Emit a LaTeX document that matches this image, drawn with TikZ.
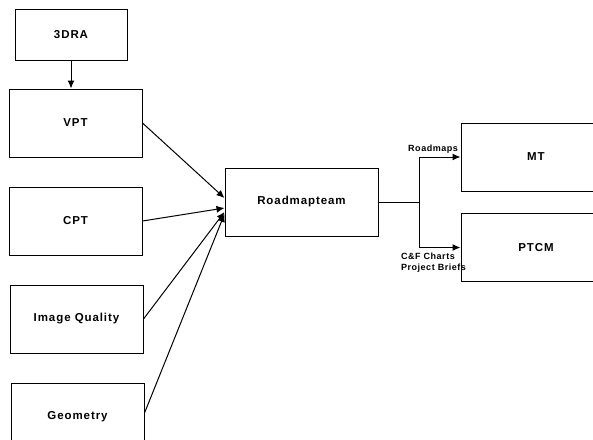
\documentclass[tikz,border=0pt]{standalone}
\usepackage{fontspec}
\setmainfont{Liberation Sans}
\newfontfamily\boxfont{Liberation Sans}[LetterSpace=8]
\newfontfamily\lblfont{Liberation Sans}[LetterSpace=6]
\usepackage{tikz}
\usetikzlibrary{arrows.meta,positioning,calc}

\begin{document}
\begin{tikzpicture}[x=1pt,y=-1pt,>={Latex[length=8pt,width=7pt]},line width=1pt,node distance=29pt]
\tikzset{cblock/.style={draw,fill=white,minimum width=133pt,minimum height=68pt,align=center,font=\boxfont\bfseries\fontsize{11.5}{13}\selectfont},
  lbl/.style={font=\lblfont\bfseries\fontsize{9}{10.5}\selectfont,inner sep=0pt,align=left}}
\useasboundingbox (0,0) rectangle (593,439);
\node[cblock] (vpt) at (75.5,123) {VPT};
\node[cblock,minimum width=112pt,minimum height=51pt,above=28pt of vpt,xshift=-4.5pt] (tdra) {3DRA};
\node[cblock,below=of vpt] (cpt) {CPT};
\node[cblock,below=of cpt,xshift=1pt] (quality) {Image Quality};
\node[cblock,below=of quality,xshift=1pt] (geometry) {Geometry};
\node[cblock,minimum width=153pt] (team) at (301.5,202) {Roadmapteam};
\node[cblock,minimum width=150pt,right=82pt of team,yshift=45pt] (mt) {MT};
\node[cblock,minimum width=150pt,right=82pt of team,yshift=-45.5pt] (ptcm) {PTCM};
\coordinate (split) at ($(team.east)+(41pt,0)$);
\draw[->] (tdra.south)--(tdra.south|-vpt.north);
\draw[->] (vpt.east)--([yshift=4pt]team.west);
\draw[->] (cpt.east)--([yshift=-6pt]team.west);
\draw[->] (quality.east)--([yshift=-10pt]team.west);
\draw[->] ([yshift=4pt]geometry.east)--([yshift=-12pt]team.west);
\draw (team.east)--(split);
\draw[->] (split)|-node[lbl,pos=1,anchor=south east,xshift=-2pt,yshift=3pt] {Roadmaps}(mt.west);
\draw[->] (split)|-node[lbl,pos=0.5,anchor=north west,xshift=-19pt,yshift=-5pt] {C\&F Charts\\Project Briefs}(ptcm.west);
\end{tikzpicture}
\end{document}
